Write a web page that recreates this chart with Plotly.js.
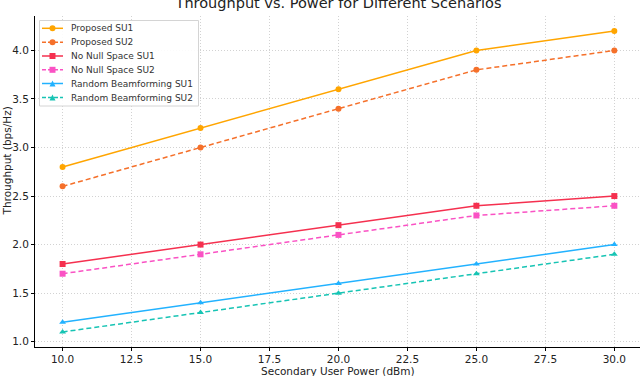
<!DOCTYPE html>
<html>
<head>
<meta charset="utf-8">
<script src="https://cdn.plot.ly/plotly-3.0.1.min.js"></script>
<style>html,body{margin:0;padding:0;background:#fff;}#chart{width:640px;height:376px;}</style>
</head>
<body>
<div id="chart"></div>
<script>
const power = [10, 15, 20, 25, 30];
const proposedSU1 = [2.8, 3.2, 3.6, 4.0, 4.2];
const proposedSU2 = [2.6, 3.0, 3.4, 3.8, 4.0];
const noNullSU1 = [1.8, 2.0, 2.2, 2.4, 2.5];
const noNullSU2 = [1.7, 1.9, 2.1, 2.3, 2.4];
const randomSU1 = [1.2, 1.4, 1.6, 1.8, 2.0];
const randomSU2 = [1.1, 1.3, 1.5, 1.7, 1.9];
const seriesNames = ["Proposed SU1", "Proposed SU2", "No Null Space SU1", "No Null Space SU2", "Random Beamforming SU1", "Random Beamforming SU2"];
const xTickValues = [10, 12.5, 15, 17.5, 20, 22.5, 25, 27.5, 30];
const yTickValues = [1.0, 1.5, 2.0, 2.5, 3.0, 3.5, 4.0];

const styles = [
  {color: "#ffa500", dash: false, symbol: "circle"},
  {color: "#f5702a", dash: true, symbol: "circle"},
  {color: "#f5304f", dash: false, symbol: "square"},
  {color: "#fa52c4", dash: true, symbol: "square"},
  {color: "#22b2ff", dash: false, symbol: "triangle-up"},
  {color: "#17c4b4", dash: true, symbol: "triangle-up"}
];
const values = [proposedSU1, proposedSU2, noNullSU1, noNullSU2, randomSU1, randomSU2];
const DASH = "5px,3px";

const traces = values.map((v, i) => ({
  x: power, y: v, name: seriesNames[i], type: "scatter", mode: "lines+markers",
  showlegend: false,
  line: {color: styles[i].color, width: 1.5, dash: styles[i].dash ? DASH : "solid"},
  marker: {color: styles[i].color, symbol: styles[i].symbol, size: 6}
}));

// Layout geometry (pixels)
const W = 640, H = 376, ML = 35, MR = 0, MT = 16, MB = 29;
const PW = W - ML - MR, PH = H - MT - MB;
const px = x => (x - ML) / PW;
const py = y => 1 - (y - MT) / PH;

const font = "DejaVu Sans, sans-serif";
const shapes = [];
const annotations = [];

// Custom legend (compact, like the reference)
shapes.push({type: "rect", xref: "paper", yref: "paper", x0: px(39.5), x1: px(198.5), y0: py(20.5), y1: py(106),
  line: {color: "#d4d4d4", width: 1}, fillcolor: "rgba(255,255,255,0.9)", layer: "above"});
const rowY = [28.3, 42.3, 56, 69.8, 83.5, 97.6];
seriesNames.forEach((name, i) => {
  const y = rowY[i], c = styles[i].color;
  shapes.push({type: "line", xref: "paper", yref: "paper", x0: px(42), x1: px(63), y0: py(y), y1: py(y),
    line: {color: c, width: 1.5, dash: styles[i].dash ? "4px,2px" : "solid"}, layer: "above"});
  const mx = 52.5, r = 3;
  if (styles[i].symbol === "circle") {
    shapes.push({type: "circle", xref: "paper", yref: "paper", x0: px(mx - r), x1: px(mx + r), y0: py(y + r), y1: py(y - r),
      fillcolor: c, line: {width: 0}, layer: "above"});
  } else if (styles[i].symbol === "square") {
    shapes.push({type: "rect", xref: "paper", yref: "paper", x0: px(mx - r), x1: px(mx + r), y0: py(y + r), y1: py(y - r),
      fillcolor: c, line: {width: 0}, layer: "above"});
  } else {
    shapes.push({type: "path", xref: "paper", yref: "paper",
      path: `M ${px(mx - r)} ${py(y + r)} L ${px(mx + r)} ${py(y + r)} L ${px(mx)} ${py(y - r)} Z`,
      fillcolor: c, line: {width: 0}, layer: "above"});
  }
  annotations.push({xref: "paper", yref: "paper", x: px(69), y: py(y), xanchor: "left", yanchor: "middle",
    text: name, showarrow: false, font: {family: font, size: 9, color: "#333"}});
});

// Axis titles as annotations for precise placement
annotations.push({xref: "paper", yref: "paper", x: px(338.5), y: 0, yshift: -MB - 1.5, xanchor: "center", yanchor: "bottom",
  text: "Secondary User Power (dBm)", showarrow: false, borderpad: 0, font: {family: font, size: 10.5, color: "#222"}});
annotations.push({xref: "paper", yref: "paper", x: px(6), y: py(161.5), xanchor: "center", yanchor: "middle",
  text: "Throughput (bps/Hz)", textangle: -90, showarrow: false, borderpad: 0, font: {family: font, size: 10.5, color: "#222"}});

const layout = {
  width: W, height: H,
  margin: {l: ML, r: MR, t: MT, b: MB},
  paper_bgcolor: "#fff", plot_bgcolor: "#fff",
  font: {family: font, size: 11, color: "#222"},
  title: {text: "Throughput vs. Power for Different Scenarios", font: {family: font, size: 14.5, color: "#222"},
          x: 338.5 / W, xanchor: "center", y: 0.991, yref: "container", yanchor: "middle"},
  showlegend: false,
  shapes: shapes,
  annotations: annotations,
  xaxis: {
    range: [9, 30.93], tickmode: "array", tickvals: xTickValues, tickformat: ".1f",
    tickfont: {family: font, size: 10.5, color: "#222"},
    showgrid: true, gridcolor: "#d2d2d2", griddash: "1px,2px", gridwidth: 1,
    showline: true, linecolor: "#000", linewidth: 1, zeroline: false,
    ticks: "outside", ticklen: 3, tickcolor: "#000", ticklabelstandoff: -1
  },
  yaxis: {
    range: [0.945, 4.355], tickmode: "array", tickvals: yTickValues, tickformat: ".1f",
    tickfont: {family: font, size: 10.5, color: "#222"},
    showgrid: true, gridcolor: "#d2d2d2", griddash: "1px,2px", gridwidth: 1,
    showline: true, linecolor: "#000", linewidth: 1, zeroline: false,
    ticks: "outside", ticklen: 3, tickcolor: "#000"
  }
};
Plotly.newPlot("chart", traces, layout, {displayModeBar: false, staticPlot: true});
</script>
</body>
</html>
